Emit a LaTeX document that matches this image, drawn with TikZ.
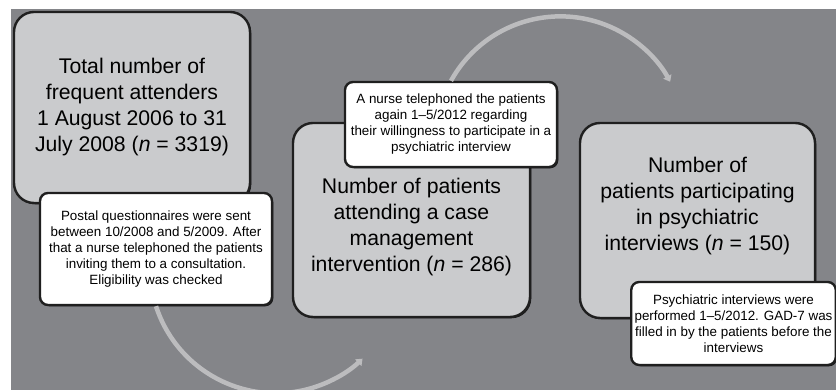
\documentclass[tikz,border=0pt]{standalone}
\usepackage{fontspec}
\setmainfont{Liberation Sans}
\usetikzlibrary{arrows.meta,shadows}

\definecolor{bggray}{RGB}{132,133,137}
\definecolor{boxgray}{RGB}{202,203,205}
\definecolor{arcgray}{RGB}{188,188,190}

\tikzset{
  bigbox/.style={draw=black!88, line width=2.4pt, fill=boxgray, rounded corners=20pt,
    drop shadow={shadow xshift=1.3pt, shadow yshift=-1.3pt, opacity=0.8, fill=black},
    align=center, font=\fontsize{21.2}{26}\selectfont},
  bigtext/.style={align=center, font=\fontsize{21.2}{26}\selectfont},
  notebox/.style={draw=black!88, line width=2.4pt, fill=white, rounded corners=8pt,
    drop shadow={shadow xshift=1.3pt, shadow yshift=-1.3pt, opacity=0.8, fill=black},
    align=center, font=\fontsize{13.4}{16}\selectfont},
  flowarc/.style={arcgray, line width=4.5pt, -{Triangle[length=6pt,width=9pt]}}
}

\begin{document}
\begin{tikzpicture}[x=1pt,y=1pt]
\useasboundingbox (0,0) rectangle (836,390);
\fill[bggray] (11,0) rectangle (836,381);

% the three stages
\node[bigbox, minimum width=236pt, minimum height=191pt] (total) at (132,282.5)
    {Total number of\\frequent attenders\\1 August 2006 to 31\\July 2008 (\textit{n} = 3319)};
\node[bigbox, minimum width=237pt, minimum height=194pt,
      label={[bigtext, yshift=-7pt]center:{Number of patients\\attending a case\\management\\intervention (\textit{n} = 286)}}]
    (casemgmt) at (411.5,170) {};
\node[bigbox, minimum width=235pt, minimum height=195pt,
      label={[bigtext, yshift=14pt]center:{Number of\\patients participating\\in psychiatric\\interviews (\textit{n} = 150)}}]
    (interview) at (697.5,169.5) {};

% notes
\node[notebox, minimum width=232pt, minimum height=112pt] (postal) at (156,141)
    {Postal questionnaires were sent\\between 10/2008 and 5/2009. After\\that a nurse telephoned the patients\\inviting them to a consultation.\\Eligibility was checked};
\node[notebox, minimum width=212pt, minimum height=85pt] (phone) at (451,265.5)
    {A nurse telephoned the patients\\again 1--5/2012 regarding\\their willingness to participate in a\\psychiatric interview};
\node[notebox, minimum width=203pt, minimum height=83pt] (gad) at (733.5,66.5)
    {Psychiatric interviews were\\performed 1--5/2012. GAD-7 was\\filled in by the patients before the\\interviews};

\draw[flowarc] (postal.south) arc[start angle=198, end angle=313.5, radius=126];
\draw[flowarc] (phone.north)  arc[start angle=151, end angle=28.5, radius=125];
\end{tikzpicture}
\end{document}
